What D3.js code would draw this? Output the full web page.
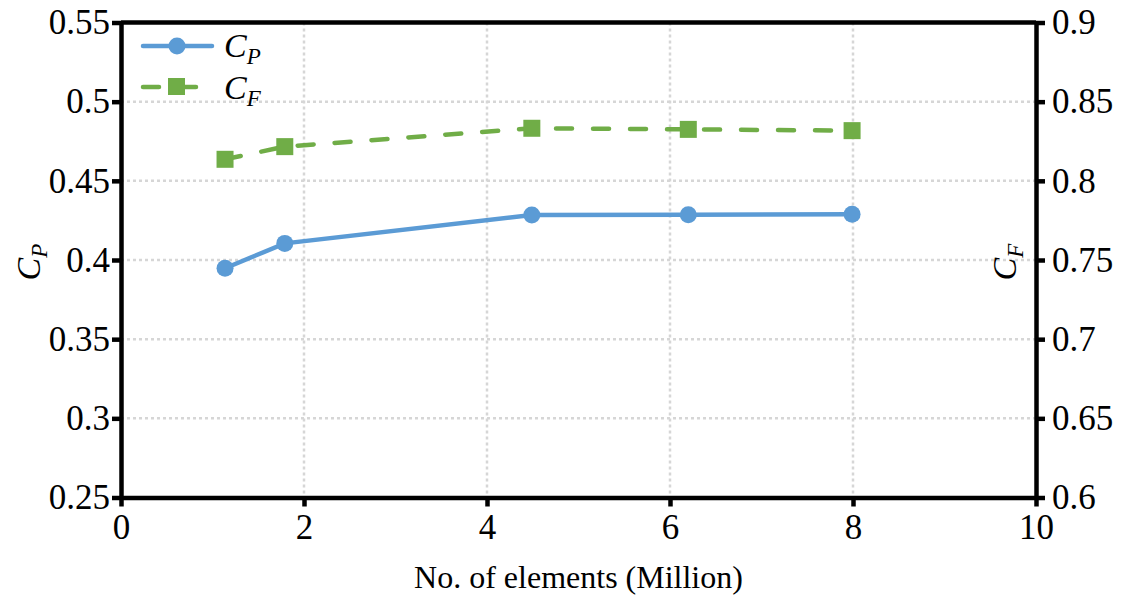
<!DOCTYPE html>
<html>
<head>
<meta charset="utf-8">
<script src="https://cdn.jsdelivr.net/npm/d3@7"></script>
<style>
  body { margin: 0; background: #fff; }
  svg text { font-family: 'Liberation Serif', 'Times New Roman', Times, 'DejaVu Serif', serif; fill: #000; }
</style>
</head>
<body>
<svg id="canvas" width="1126" height="596"></svg>
<script>
// data
let elements = [1.137, 1.79, 4.49, 6.2, 7.99]
let cpValues = [0.3948, 0.4105, 0.4284, 0.4286, 0.4289]
let cfValues = [0.8136, 0.8216, 0.8332, 0.8325, 0.8317]
let xTicks = [0, 2, 4, 6, 8, 10]
let cpTicks = [0.25, 0.3, 0.35, 0.4, 0.45, 0.5, 0.55]
let cfTicks = [0.6, 0.65, 0.7, 0.75, 0.8, 0.85, 0.9]

let blue = '#5B9BD5'
let green = '#70AD47'
let serif = "'Liberation Serif', 'Times New Roman', Times, 'DejaVu Serif', serif"

let svg = d3.select('#canvas')

let plotLeft = 121, plotRight = 1036, plotTop = 22.5, plotBottom = 497.5

let xScale = d3.scaleLinear().domain([0, 10]).range([plotLeft, plotRight])
let yLeft = d3.scaleLinear().domain([0.25, 0.55]).range([plotBottom, plotTop])
let yRight = d3.scaleLinear().domain([0.6, 0.9]).range([plotBottom, plotTop])

// grid
let grid = svg.append('g')
grid.selectAll('.vg')
  .data(xTicks.filter(d => d > 0 && d < 10))
  .enter()
  .append('line')
  .attr('x1', d => xScale(d))
  .attr('x2', d => xScale(d))
  .attr('y1', plotTop)
  .attr('y2', plotBottom)
grid.selectAll('.hg')
  .data(cpTicks.filter(d => d > 0.25 && d < 0.55))
  .enter()
  .append('line')
  .attr('x1', plotLeft)
  .attr('x2', plotRight)
  .attr('y1', d => yLeft(d))
  .attr('y2', d => yLeft(d))
grid.selectAll('line')
  .attr('stroke', '#d6d6d6')
  .attr('stroke-width', 2.5)
  .attr('stroke-dasharray', '3,3')

// top border
svg.append('line')
  .attr('x1', plotLeft).attr('x2', plotRight)
  .attr('y1', plotTop).attr('y2', plotTop)
  .attr('stroke', '#000').attr('stroke-width', 4.5)

let styleAxis = (g) => {
  g.attr('font-family', serif).attr('font-size', 35)
  g.selectAll('.domain').attr('stroke', '#000').attr('stroke-width', 4.5)
  g.selectAll('.tick line').attr('stroke', '#000').attr('stroke-width', 4.5)
  g.selectAll('.tick text')
    .attr('font-family', serif)
    .attr('font-size', 35)
    .attr('fill', '#000')
}

let xAxis = svg.append('g')
  .attr('transform', 'translate(0,' + plotBottom + ')')
  .call(d3.axisBottom(xScale).tickValues(xTicks).tickFormat(d3.format('d')).tickSize(9).tickSizeOuter(0).tickPadding(8))
styleAxis(xAxis)

let leftAxis = svg.append('g')
  .attr('transform', 'translate(' + plotLeft + ',0)')
  .call(d3.axisLeft(yLeft).tickValues(cpTicks).tickFormat(d => String(+d.toFixed(2))).tickSize(9).tickSizeOuter(0).tickPadding(2))
styleAxis(leftAxis)

let rightAxis = svg.append('g')
  .attr('transform', 'translate(' + plotRight + ',0)')
  .call(d3.axisRight(yRight).tickValues(cfTicks).tickFormat(d => String(+d.toFixed(2))).tickSize(9).tickSizeOuter(0).tickPadding(7))
styleAxis(rightAxis)

// series
let cpLine = d3.line()
  .x((d, i) => xScale(elements[i]))
  .y(d => yLeft(d))
let cfLine = d3.line()
  .x((d, i) => xScale(elements[i]))
  .y(d => yRight(d))

svg.append('path')
  .attr('d', cfLine(cfValues))
  .attr('fill', 'none')
  .attr('stroke', green)
  .attr('stroke-width', 4.5)
  .attr('stroke-linecap', 'round')
  .attr('stroke-dasharray', '16,21')

svg.append('path')
  .attr('d', cpLine(cpValues))
  .attr('fill', 'none')
  .attr('stroke', blue)
  .attr('stroke-width', 4.5)

svg.selectAll('.cf')
  .data(cfValues)
  .enter()
  .append('rect')
  .attr('x', (d, i) => xScale(elements[i]) - 8.5)
  .attr('y', d => yRight(d) - 8.5)
  .attr('width', 17)
  .attr('height', 17)
  .attr('fill', green)

svg.selectAll('.cp')
  .data(cpValues)
  .enter()
  .append('circle')
  .attr('cx', (d, i) => xScale(elements[i]))
  .attr('cy', d => yLeft(d))
  .attr('r', 8.5)
  .attr('fill', blue)

// legend
let legend = svg.append('g')
legend.append('line')
  .attr('x1', 143).attr('x2', 212).attr('y1', 46).attr('y2', 46)
  .attr('stroke', blue).attr('stroke-width', 4.5).attr('stroke-linecap', 'round')
legend.append('circle')
  .attr('cx', 177).attr('cy', 46).attr('r', 8.5).attr('fill', blue)
legend.append('line')
  .attr('x1', 143).attr('x2', 198).attr('y1', 87).attr('y2', 87)
  .attr('stroke', green).attr('stroke-width', 4.5).attr('stroke-linecap', 'round')
  .attr('stroke-dasharray', '16,21')
legend.append('rect')
  .attr('x', 168).attr('y', 78).attr('width', 17).attr('height', 17).attr('fill', green)

let subLabel = (g, x, y, sub, rotate) => {
  let t = g.append('text')
    .attr('x', x).attr('y', y)
    .attr('font-family', serif)
    .attr('font-style', 'italic')
    .attr('font-size', 34)
  if (rotate) t.attr('transform', 'rotate(-90,' + x + ',' + y + ')').attr('text-anchor', 'middle')
  t.append('tspan').text('C')
  t.append('tspan').text(sub).attr('dy', 7).attr('font-size', 23)
  return t
}

subLabel(legend, 224, 57, 'P', false)
subLabel(legend, 224, 99, 'F', false)

// axis titles
subLabel(svg, 40, 262, 'P', true)
subLabel(svg, 1016, 262, 'F', true)

svg.append('text')
  .attr('x', (plotLeft + plotRight) / 2)
  .attr('y', 588)
  .attr('text-anchor', 'middle')
  .attr('font-family', serif)
  .attr('font-size', 32)
  .text('No. of elements (Million)')
</script>
</body>
</html>
